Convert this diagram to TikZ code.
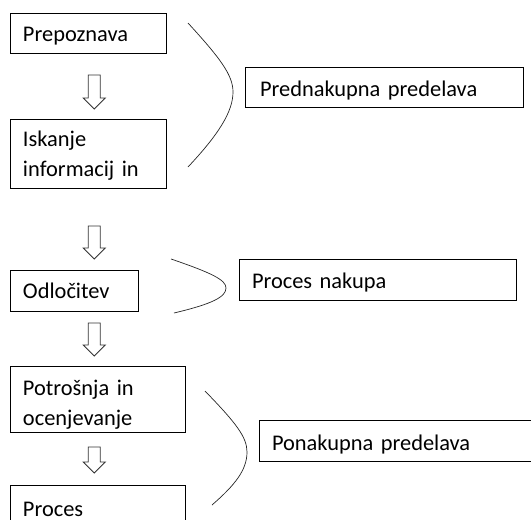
\documentclass[tikz,border=0pt]{standalone}
\usepackage{fontspec}
\setmainfont{Carlito}
\begin{document}
\begin{tikzpicture}[x=1pt,y=-1pt,
  box/.style={draw=black, line width=0.9pt, rectangle, inner ysep=0pt, inner xsep=13pt,
    align=left, font=\fontsize{22.4}{30}\selectfont},
  brace/.style={draw=black!85, line width=0.7pt},
  pics/downarr/.style={code={
    \draw[line width=0.8pt, line join=miter, draw=black!80]
      (-6,0) -- (6,0) -- (6,#1) -- (11,#1) -- (0,#1+11) -- (-11,#1) -- (-6,#1) -- cycle;
  }}]
\useasboundingbox (0,0) rectangle (531,520);
\clip (0,0) rectangle (531,520);

% left column boxes
\node[box, text width=130, minimum height=40, text height=17.4, text depth=0] (b1) at (88,33) {Prepoznava};
\node[box, text width=130, minimum height=69, text height=15, text depth=28.6] (b2) at (88,153.5) {Iskanje\\informacij in};
\node[box, text width=102, minimum height=41, text height=15, text depth=0] (b3) at (74,290.5) {Odločitev};
\node[box, text width=149, minimum height=66, text height=15, text depth=23] (b4) at (97.5,399) {Potrošnja in\\ocenjevanje};
\node[box, text width=149, minimum height=60, text height=15, text depth=13] (b5) at (97.5,515) {Proces};

% right boxes
\node[box, inner xsep=15pt, text width=248, minimum height=40, text height=18, text depth=0] (r1) at (384,87) {Prednakupna predelava};
\node[box, text width=251, minimum height=41, text height=17, text depth=0] (r2) at (377.5,279.5) {Proces nakupa};
\node[box, text width=260, minimum height=41, text height=19, text depth=0] (r3) at (402,440.5) {Ponakupna predelava};

% block arrows
\pic (a1) at (94.3,75) {downarr=23};
\pic (a2) at (94.3,226) {downarr=22};
\pic (a3) at (94.3,323) {downarr=22};
\pic (a4) at (94.3,447) {downarr=15};

% brackets
\draw[brace] (188,23) .. controls (220,58) and (233,75) .. (233,92)
  .. controls (233,112) and (218,135) .. (188,167);
\draw[brace] (171,259) .. controls (212,273) and (226,280) .. (226,288)
  .. controls (226,297) and (212,304) .. (174,313);
\draw[brace] (205,391) .. controls (236,423) and (247,437) .. (247,452)
  .. controls (247,470) and (235,485) .. (212,505);
\end{tikzpicture}
\end{document}
